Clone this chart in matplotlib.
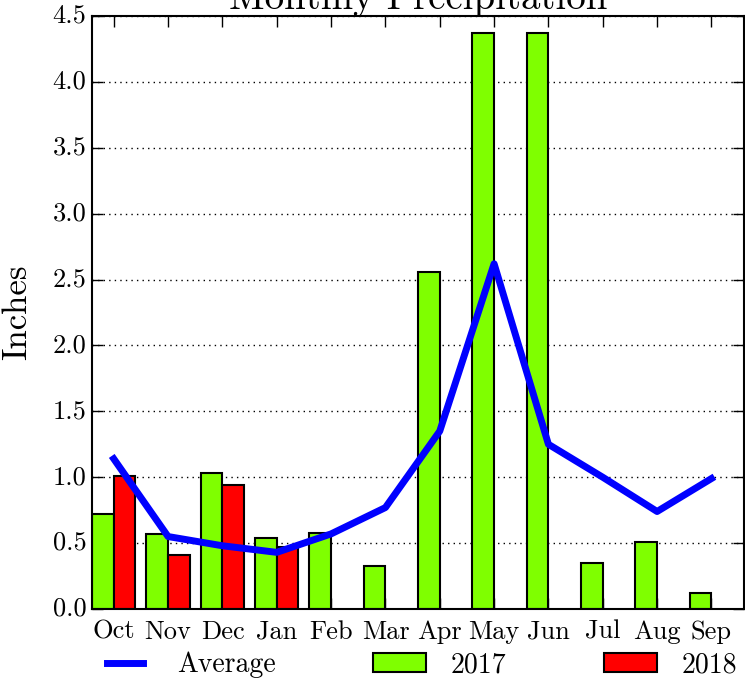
import matplotlib
matplotlib.use("Agg")
import matplotlib.pyplot as plt
import numpy as np

months = ["Oct", "Nov", "Dec", "Jan", "Feb", "Mar", "Apr", "May", "Jun", "Jul", "Aug", "Sep"]
precip_2017 = [0.72, 0.57, 1.03, 0.54, 0.58, 0.33, 2.56, 4.37, 4.37, 0.35, 0.51, 0.12]
precip_2018 = [1.01, 0.41, 0.94, 0.47]
average = [1.14, 0.55, 0.48, 0.43, 0.57, 0.77, 1.35, 2.62, 1.25, 1.00, 0.74, 0.99]
yticks = [0.0, 0.5, 1.0, 1.5, 2.0, 2.5, 3.0, 3.5, 4.0, 4.5]

plt.style.use("classic")
plt.rcParams["font.family"] = ["cmr10", "DejaVu Serif"]
plt.rcParams["axes.formatter.use_mathtext"] = True

fig = plt.figure(figsize=(7.45, 6.81), dpi=100)
ax = fig.add_axes([0.1235, 0.1057, 0.8752, 0.8708])

x = np.arange(len(months))
w = 0.4
b17 = ax.bar(x - w, precip_2017, width=w, align="edge", color="#7FFF00",
             edgecolor="black", linewidth=1.5, label="2017", zorder=2)
b18 = ax.bar(np.arange(len(precip_2018)), precip_2018, width=w, align="edge",
             color="#FF0000", edgecolor="black", linewidth=1.5, label="2018", zorder=2)
ln, = ax.plot(x, average, color="#0000FF", lw=5, label="Average", zorder=3)

ax.set_xlim(-0.4, 11.6)
ax.set_ylim(0, 4.5)
ax.set_xticks(x)
ax.set_xticklabels(months)
ax.set_yticks(yticks)
ax.set_yticklabels([f"{v:.1f}" for v in yticks])
ax.tick_params(axis="both", labelsize=19, direction="in", length=8, width=1)
ax.tick_params(axis="x", pad=8)
ax.grid(axis="y", linestyle=":", color="black", linewidth=1)
ax.grid(axis="x", visible=False)
ax.set_axisbelow(True)
ax.set_ylabel("Inches", fontsize=25, labelpad=14)
ax.set_title("Monthly Precipitation", fontsize=28, pad=5)
for s in ax.spines.values():
    s.set_linewidth(1.5)

fig.legend([ln, b17, b18], ["Average", "2017", "2018"], loc="center",
           bbox_to_anchor=(0.0993, 1 - 665 / 681, 0.924, 0.0), mode="expand",
           ncol=3, frameon=False, fontsize=20, handlelength=1.9, handletextpad=0.9)

fig.savefig("out.png", dpi=100)
